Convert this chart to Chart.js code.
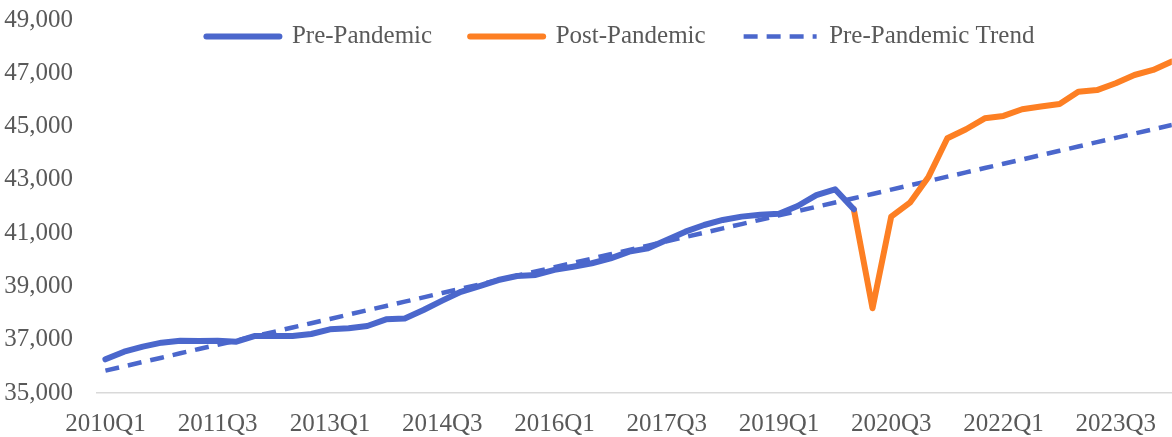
<!DOCTYPE html>
<html>
<head>
<meta charset="utf-8">
<script src="https://cdn.jsdelivr.net/npm/chart.js@4/dist/chart.umd.min.js"></script>
<style>
  body { margin: 0; background: #ffffff; }
  #wrap { width: 1172px; height: 437px; }
</style>
</head>
<body>
<div id="wrap"><canvas id="gdp-chart"></canvas></div>
<script>
// Trimestres 2010Q1 - 2024Q2
var trimestres = [];
for (var a = 2010; a <= 2024; a++) {
    for (var q = 1; q <= 4; q++) {
        trimestres.push(a + "Q" + q);
    }
}
trimestres = trimestres.slice(0, 58);

// Serie antes de la pandemia (2010Q1 - 2020Q1)
var prePandemia = [
    36265, 36550, 36740, 36890, 36960, 36950, 36960, 36925, 37140, 37140,
    37140, 37215, 37390, 37430, 37515, 37765, 37800, 38115, 38465, 38800,
    39015, 39240, 39390, 39430, 39620, 39740, 39870, 40055, 40305, 40430,
    40745, 41055, 41305, 41495, 41620, 41690, 41730, 42020, 42430, 42645,
    41895
];

// Serie despues de la pandemia (2020Q1 - 2024Q2)
var inicioPost = 40;
var postPandemia = [
    41895, 38180, 41620, 42145, 43120, 44560, 44900, 45310, 45400, 45650,
    45750, 45850, 46310, 46370, 46625, 46935, 47125, 47440
];

// Tendencia pre-pandemia (linea recta)
var tendencia = [
    35840, 36000, 36165, 36325, 36490, 36650, 36810, 36970, 37135, 37295,
    37460, 37620, 37780, 37945, 38105, 38265, 38430, 38590, 38755, 38915,
    39075, 39240, 39400, 39560, 39720, 39885, 40045, 40210, 40370, 40530,
    40695, 40855, 41015, 41180, 41340, 41500, 41665, 41825, 41990, 42150,
    42310, 42470, 42635, 42795, 42955, 43120, 43280, 43445, 43605, 43765,
    43930, 44090, 44250, 44415, 44575, 44735, 44900, 45060
];

var yMin = 35000;
var yMax = 49000;
var yPaso = 2000;
var xPaso = 6;

var azul = "#4b67cc";
var naranja = "#fd7f23";
var gris = "#595959";

function puntos(valores, inicio) {
    return valores.map(function(v, i) {
        return { x: inicio + i, y: v };
    });
}

// La leyenda va encima del area del grafico, como en Excel
var leyendaEncima = {
    id: "leyendaEncima",
    beforeInit: function(chart) {
        var fitOriginal = chart.legend.fit;
        chart.legend.fit = function() {
            fitOriginal.call(this);
            this.height = 3;
        };
    },
    afterLayout: function(chart) {
        var leyenda = chart.legend;
        leyenda.top = -14;
        leyenda.bottom = 80;
        leyenda.height = 94;
        leyenda.left -= 14;
        leyenda.right -= 14;
    }
};

// Con usePointStyle la leyenda pierde el guion, se lo devolvemos
function etiquetasLeyenda(chart) {
    var items = Chart.defaults.plugins.legend.labels.generateLabels(chart);
    items.forEach(function(item) {
        var ds = chart.data.datasets[item.datasetIndex];
        item.lineWidth = ds.borderWidth;
        item.lineDash = ds.borderDash || [];
        item.lineCap = ds.borderDash ? "butt" : "round";
    });
    return items;
}

function drawChart() {
    var ctx = document.getElementById("gdp-chart").getContext("2d");
    var fuente = { family: "'Liberation Serif', 'Times New Roman', serif", size: 25 };
    var chart = new Chart(ctx, {
        type: "line",
        data: {
            datasets: [{
                label: "Pre-Pandemic",
                data: puntos(prePandemia, 0),
                borderColor: azul,
                backgroundColor: azul,
                borderWidth: 6,
                pointRadius: 0,
                borderJoinStyle: "round",
                borderCapStyle: "round"
            }, {
                label: "Post-Pandemic",
                data: puntos(postPandemia, inicioPost),
                borderColor: naranja,
                backgroundColor: naranja,
                borderWidth: 6,
                pointRadius: 0,
                borderJoinStyle: "round",
                borderCapStyle: "round"
            }, {
                label: "Pre-Pandemic Trend",
                data: puntos(tendencia, 0),
                borderColor: azul,
                backgroundColor: azul,
                borderWidth: 4.5,
                borderDash: [14, 9],
                pointRadius: 0
            }]
        },
        options: {
            responsive: true,
            maintainAspectRatio: false,
            animation: false,
            layout: { padding: { top: 0, left: 0, right: 0, bottom: 0 } },
            plugins: {
                tooltip: { enabled: false },
                legend: {
                    position: "top",
                    fullSize: false,
                    align: "center",
                    labels: {
                        usePointStyle: true,
                        pointStyle: "line",
                        pointStyleWidth: 73,
                        boxWidth: 73,
                        padding: 38,
                        color: gris,
                        font: fuente,
                        generateLabels: etiquetasLeyenda
                    }
                }
            },
            scales: {
                x: {
                    type: "linear",
                    min: -0.45,
                    max: trimestres.length - 1,
                    grid: { display: false, drawTicks: false },
                    border: { display: true, color: "#d9d9d9", width: 1.5 },
                    afterFit: function(scale) {
                        scale.height = 44;
                    },
                    ticks: {
                        stepSize: xPaso,
                        includeBounds: false,
                        autoSkip: false,
                        maxRotation: 0,
                        color: gris,
                        font: fuente,
                        padding: 16,
                        callback: function(v) {
                            return trimestres[v] || "";
                        }
                    }
                },
                y: {
                    min: yMin,
                    max: yMax,
                    grid: { display: false, drawTicks: false },
                    border: { display: false },
                    afterFit: function(scale) {
                        scale.width = 97;
                        scale.paddingTop = 20;
                    },
                    ticks: {
                        stepSize: yPaso,
                        color: gris,
                        font: fuente,
                        padding: 24
                    }
                }
            }
        },
        plugins: [leyendaEncima]
    });
}

drawChart();
</script>
</body>
</html>
